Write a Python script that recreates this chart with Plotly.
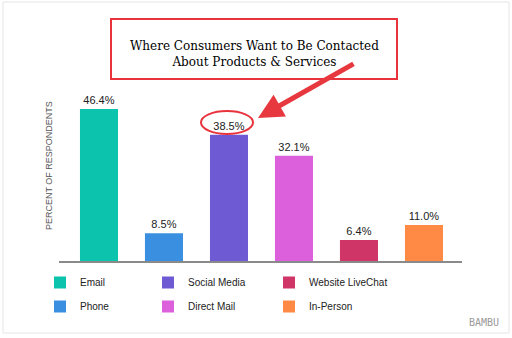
import plotly.graph_objects as go

categories = ["Email", "Phone", "Social Media", "Direct Mail", "Website LiveChat", "In-Person"]
values = [46.4, 8.5, 38.5, 32.1, 6.4, 11.0]
labels = ["46.4%", "8.5%", "38.5%", "32.1%", "6.4%", "11.0%"]
colors = ["#0cc3ad", "#3a8fe0", "#6e5bd3", "#dc5fdc", "#cf3566", "#ff8a45"]
legend_ids = ["legend", "legend", "legend2", "legend2", "legend3", "legend3"]

W, H = 512, 338
L, R, T, B = 59, 462, 97, 261

def px(x):
    return (x - L) / (R - L)

def py(y):
    return (B - y) / (B - T)

fig = go.Figure()
for cat, v, lab, c, lg in zip(categories, values, labels, colors, legend_ids):
    fig.add_trace(go.Bar(
        x=[cat], y=[v], name=cat, text=[lab], textposition="outside",
        textfont=dict(size=11, color="#222", family="Liberation Sans"),
        marker=dict(color=c, line=dict(width=0)), width=0.585,
        cliponaxis=False, legend=lg, legendgroup=cat,
    ))

leg_common = dict(orientation="v", xanchor="left", yanchor="top",
                  font=dict(size=10, color="#222", family="Liberation Sans"),
                  bgcolor="rgba(0,0,0,0)", tracegroupgap=5, itemwidth=30)

fig.update_layout(
    width=W, height=H,
    margin=dict(l=L, r=W - R, t=T, b=H - B),
    paper_bgcolor="white", plot_bgcolor="white",
    barmode="overlay",
    showlegend=True,
    legend=dict(x=px(40), y=py(268), **leg_common),
    legend2=dict(x=px(148), y=py(268), **leg_common),
    legend3=dict(x=px(269), y=py(268), **leg_common),
    xaxis=dict(range=[-0.615, 5.585], showticklabels=False, ticks="",
               showline=True, linecolor="#8a8a8a", linewidth=2,
               showgrid=False, zeroline=False, fixedrange=True),
    yaxis=dict(range=[0, 50.06], showticklabels=False, ticks="",
               showgrid=False, zeroline=False, showline=False, fixedrange=True),
)

# outer light frame
fig.add_shape(type="rect", xref="paper", yref="paper",
              x0=px(3), x1=px(509), y0=py(333), y1=py(2),
              line=dict(color="#e6e6e6", width=1), layer="below")

# title box
fig.add_shape(type="rect", xref="paper", yref="paper",
              x0=px(111), x1=px(397), y0=py(79), y1=py(19),
              line=dict(color="#e8323c", width=2), fillcolor="white")
fig.add_annotation(xref="paper", yref="paper", x=px(254), y=py(54),
                   text="Where Consumers Want to Be Contacted<br>About Products & Services",
                   showarrow=False, xanchor="center", yanchor="middle",
                   font=dict(family="DejaVu Serif", size=12, color="#000"))

# arrow
fig.add_annotation(xref="paper", yref="paper", x=px(258), y=py(118),
                   ax=97, ay=-55, text="", showarrow=True,
                   arrowhead=2, arrowsize=1, arrowwidth=5, arrowcolor="#e8383f")

# ellipse highlight
fig.add_shape(type="circle", xref="paper", yref="paper",
              x0=px(201), x1=px(253), y0=py(134), y1=py(111),
              line=dict(color="#e8323c", width=2))

# y-axis title
fig.add_annotation(xref="paper", yref="paper", x=px(49), y=py(166),
                   text="PERCENT OF RESPONDENTS", textangle=-90, showarrow=False,
                   xanchor="center", yanchor="middle",
                   font=dict(size=9, color="#555", family="Liberation Sans"))

# brand
fig.add_annotation(xref="paper", yref="paper", x=px(501), y=py(322),
                   text="BAMBU", showarrow=False, xanchor="right", yanchor="middle",
                   font=dict(size=10, color="#9a9a9a", family="DejaVu Sans Mono"))

fig.write_html("out.html")
